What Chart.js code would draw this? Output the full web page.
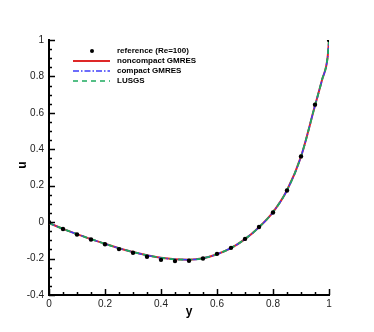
<!DOCTYPE html>
<html>
<head>
<meta charset="utf-8">
<script src="https://cdn.jsdelivr.net/npm/chart.js@4"></script>
<style>
  html, body { margin: 0; padding: 0; background: #fff; }
  #wrap { width: 374px; height: 332px; }
</style>
</head>
<body>
<div id="wrap"><canvas id="myChart" width="374" height="332"></canvas></div>
<script>
// reference points (Re=100)
var refY = [0, 0.05, 0.1, 0.15, 0.2, 0.25, 0.3, 0.35, 0.4, 0.45, 0.5, 0.55, 0.6, 0.65, 0.7, 0.75, 0.8, 0.85, 0.9, 0.95, 1.0];
var refU = [0, -0.038, -0.068, -0.095, -0.121, -0.148, -0.168, -0.19, -0.207, -0.214, -0.212, -0.2, -0.174, -0.141, -0.092, -0.027, 0.053, 0.174, 0.361, 0.645, 1.0];

// computed solution (three solvers lie on top of each other)
var solY = [0, 0.05, 0.1, 0.15, 0.2, 0.25, 0.3, 0.35, 0.4, 0.45, 0.5, 0.55, 0.6, 0.65, 0.7, 0.75, 0.8, 0.85, 0.9, 0.95, 0.975, 0.995, 1.0];
var noncompactU = [-0.005, -0.037, -0.066, -0.093, -0.119, -0.143, -0.164, -0.182, -0.196, -0.204, -0.206, -0.198, -0.176, -0.142, -0.093, -0.028, 0.055, 0.175, 0.36, 0.64, 0.78, 0.905, 1.0];
var compactU = noncompactU.slice();
var lusgsU = noncompactU.slice();

var names = ['reference (Re=100)', 'noncompact GMRES', 'compact GMRES', 'LUSGS'];
var xTicks = [0, 0.2, 0.4, 0.6, 0.8, 1];
var yTicks = [-0.4, -0.2, 0, 0.2, 0.4, 0.6, 0.8, 1];

function pts(xs, ys) {
    return xs.map(function (x, i) { return { x: x, y: ys[i] }; });
}
function fmt(v) {
    return String(Math.round(v * 10) / 10);
}

var RED = 'rgb(222, 40, 40)';
var BLUE = 'rgb(60, 60, 250)';
var GREEN = 'rgb(30, 170, 95)';

// ticks inside the frame, minor every 0.05, axis titles and the legend
var decor = {
    id: 'decor',
    afterDatasetsDraw: function (chart) {
        var c = chart.ctx;
        var xs = chart.scales.x, ys = chart.scales.y;
        var a = chart.chartArea;
        c.save();
        c.strokeStyle = '#000';
        c.lineWidth = 1.5;
        for (var i = 0; i <= 20; i++) {
            var v = i * 0.05;
            var px = Math.round(xs.getPixelForValue(v)) + 0.5;
            var len = (i % 4 === 0) ? 6 : 3;
            c.beginPath();
            c.moveTo(px, a.bottom);
            c.lineTo(px, a.bottom - len);
            c.stroke();
        }
        for (var j = 0; j <= 28; j++) {
            var u = -0.4 + j * 0.05;
            var py = Math.round(ys.getPixelForValue(u)) + 0.5;
            var l2 = (j % 4 === 0) ? 6 : 3;
            c.beginPath();
            c.moveTo(a.left, py);
            c.lineTo(a.left + l2, py);
            c.stroke();
        }

        // axis titles
        c.fillStyle = '#000';
        c.font = 'bold 12px "Liberation Sans", Arial, sans-serif';
        c.textAlign = 'center';
        c.textBaseline = 'middle';
        c.fillText('y', 189, 312);
        c.save();
        c.translate(23, 165);
        c.rotate(-Math.PI / 2);
        c.fillText('u', 0, 0);
        c.restore();

        // legend
        var lx0 = 73, lx1 = 110, tx = 117, ly = 51, dy = 10;
        c.font = 'bold 8px "Liberation Sans", Arial, sans-serif';
        c.textAlign = 'left';
        c.fillStyle = '#000';
        c.beginPath();
        c.arc(92, ly, 2, 0, Math.PI * 2);
        c.fill();
        c.fillText(names[0], tx, ly);

        c.lineWidth = 2;
        c.strokeStyle = RED;
        c.setLineDash([]);
        c.beginPath(); c.moveTo(lx0, ly + dy); c.lineTo(lx1, ly + dy); c.stroke();
        c.fillText(names[1], tx, ly + dy);

        c.lineWidth = 1.5;
        c.strokeStyle = BLUE;
        c.setLineDash([6, 2, 1.5, 2]);
        c.beginPath(); c.moveTo(lx0, ly + 2 * dy); c.lineTo(lx1, ly + 2 * dy); c.stroke();
        c.fillText(names[2], tx, ly + 2 * dy);

        c.strokeStyle = GREEN;
        c.setLineDash([5, 4]);
        c.beginPath(); c.moveTo(lx0, ly + 3 * dy); c.lineTo(lx1, ly + 3 * dy); c.stroke();
        c.fillText(names[3], tx, ly + 3 * dy);
        c.restore();
    }
};

var ctx = document.getElementById('myChart');

var myChart = new Chart(ctx, {
    type: 'scatter',
    data: {
        datasets: [
            {
                label: names[1],
                data: pts(solY, noncompactU),
                order: 3,
                showLine: true,
                borderColor: RED,
                borderWidth: 2,
                pointRadius: 0,
                cubicInterpolationMode: 'monotone'
            },
            {
                label: names[2],
                data: pts(solY, compactU),
                order: 2,
                showLine: true,
                borderColor: BLUE,
                borderWidth: 1.5,
                borderDash: [6, 2, 1.5, 2],
                pointRadius: 0,
                cubicInterpolationMode: 'monotone'
            },
            {
                label: names[3],
                data: pts(solY, lusgsU),
                order: 1,
                showLine: true,
                borderColor: GREEN,
                borderWidth: 1.8,
                borderDash: [5, 4],
                pointRadius: 0,
                cubicInterpolationMode: 'monotone'
            },
            {
                label: names[0],
                data: pts(refY, refU),
                order: 0,
                showLine: false,
                pointRadius: 2.2,
                pointBackgroundColor: '#000',
                pointBorderColor: '#000',
                pointBorderWidth: 0
            }
        ]
    },
    options: {
        responsive: false,
        animation: false,
        layout: { padding: { left: 0, right: 45, top: 40, bottom: 0 } },
        plugins: {
            legend: { display: false },
            tooltip: { enabled: false }
        },
        scales: {
            x: {
                type: 'linear',
                min: 0,
                max: 1,
                afterBuildTicks: function (s) { s.ticks = xTicks.map(function (v) { return { value: v }; }); },
                afterFit: function (s) { s.height = 37; },
                grid: { display: true, drawOnChartArea: false, drawTicks: false },
                border: { display: true, color: '#000', width: 2 },
                ticks: {
                    padding: 3,
                    color: '#222',
                    maxRotation: 0,
                    callback: fmt,
                    font: { family: '"Liberation Sans", Arial, sans-serif', size: 10 }
                }
            },
            y: {
                type: 'linear',
                min: -0.4,
                max: 1,
                afterBuildTicks: function (s) { s.ticks = yTicks.map(function (v) { return { value: v }; }); },
                afterFit: function (s) { s.width = 49; },
                grid: { display: true, drawOnChartArea: false, drawTicks: false },
                border: { display: true, color: '#000', width: 2 },
                ticks: {
                    padding: 5,
                    color: '#222',
                    callback: fmt,
                    font: { family: '"Liberation Sans", Arial, sans-serif', size: 10 }
                }
            }
        }
    },
    plugins: [decor]
});
</script>
</body>
</html>
